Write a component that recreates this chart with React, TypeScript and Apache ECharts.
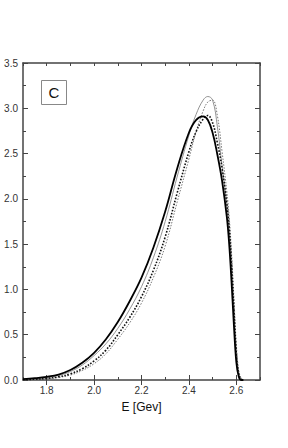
import React, { useEffect, useRef } from "react";
import * as echarts from "echarts";

const energies = [1.70, 1.75, 1.80, 1.85, 1.90, 1.95, 2.00, 2.05, 2.10, 2.15, 2.20, 2.25, 2.30, 2.35, 2.40, 2.43, 2.46, 2.48, 2.50, 2.52, 2.54, 2.56, 2.57, 2.58, 2.59, 2.60, 2.61, 2.62, 2.63];
const thickSolid = [0.01, 0.02, 0.035, 0.06, 0.11, 0.19, 0.30, 0.45, 0.64, 0.87, 1.13, 1.46, 1.86, 2.33, 2.73, 2.87, 2.91, 2.87, 2.73, 2.49, 2.20, 1.80, 1.50, 1.08, 0.60, 0.20, 0.04, 0, 0];
const thinSolid = [0.007, 0.015, 0.028, 0.05, 0.093, 0.165, 0.27, 0.40, 0.57, 0.78, 1.03, 1.35, 1.75, 2.24, 2.70, 2.93, 3.09, 3.13, 3.09, 2.80, 2.36, 1.94, 1.66, 1.26, 0.78, 0.32, 0.08, 0.01, 0];
const thickDotted = [0.004, 0.009, 0.018, 0.035, 0.068, 0.125, 0.21, 0.33, 0.50, 0.69, 0.92, 1.21, 1.58, 2.06, 2.52, 2.74, 2.88, 2.92, 2.84, 2.62, 2.34, 1.95, 1.68, 1.28, 0.78, 0.30, 0.07, 0.01, 0];
const thinDotted = [0.003, 0.007, 0.014, 0.028, 0.055, 0.105, 0.18, 0.29, 0.45, 0.63, 0.85, 1.13, 1.48, 1.96, 2.44, 2.74, 2.97, 3.07, 3.09, 2.92, 2.52, 2.08, 1.80, 1.40, 0.90, 0.40, 0.11, 0.02, 0];

const majorEnergyTicks = [1.8, 2.0, 2.2, 2.4, 2.6];
const xMin = 1.7, xMax = 2.7, xMinorInterval = 0.1;
const yMin = 0, yMax = 3.5, yInterval = 0.5;

const pairs = (ys: number[]) => energies.map((e, i) => [e, ys[i]]);

export default function App() {
  const ref = useRef<HTMLDivElement>(null);
  useEffect(() => {
    if (!ref.current) return;
    const chart = echarts.init(ref.current, null, { renderer: "svg" });
    const axisColor = "#444";
    const font = "Arial, 'Liberation Sans', sans-serif";
    const labelStyle = { color: "#333", fontSize: 10, fontFamily: font };
    const minorX = {
      type: "value" as const,
      min: xMin,
      max: xMax,
      interval: xMinorInterval,
      axisLine: { show: true, onZero: false, lineStyle: { color: axisColor, width: 1.5 } },
      axisTick: { show: true, inside: true, length: 3, lineStyle: { color: axisColor } },
      splitLine: { show: false },
    };
    const majorX = {
      type: "value" as const,
      min: xMin,
      max: xMax,
      interval: xMinorInterval,
      axisLine: { show: false },
      axisTick: { show: true, inside: true, length: 5, customValues: majorEnergyTicks, lineStyle: { color: axisColor } },
      axisLabel: { show: false },
      splitLine: { show: false },
    };
    const baseY = {
      type: "value" as const,
      min: yMin,
      max: yMax,
      interval: yInterval,
      axisLine: { show: true, onZero: false, lineStyle: { color: axisColor, width: 1.5 } },
      axisTick: { show: true, inside: true, length: 5, lineStyle: { color: axisColor } },
      minorTick: { show: true, splitNumber: 2, length: 3, lineStyle: { color: axisColor } },
      splitLine: { show: false },
      minorSplitLine: { show: false },
    };
    chart.setOption({
      animation: false,
      grid: { left: 23, top: 63, right: 28, bottom: 68, containLabel: false, outerBoundsMode: "none" },
      xAxis: [
        {
          ...minorX,
          position: "bottom",
          axisLabel: {
            ...labelStyle,
            margin: 5,
            formatter: (v: number) => (Math.round(v * 10) % 2 === 0 ? v.toFixed(1) : ""),
          },
          name: "E [Gev]",
          nameLocation: "middle",
          nameGap: 21,
          nameTextStyle: { color: "#111", fontSize: 12, fontFamily: font },
        },
        { ...minorX, position: "top", axisLabel: { show: false } },
        { ...majorX, position: "bottom" },
        { ...majorX, position: "top" },
      ],
      yAxis: [
        {
          ...baseY,
          position: "left",
          axisLabel: { ...labelStyle, margin: 5, overflow: "none", formatter: (v: number) => v.toFixed(1) },
        },
        { ...baseY, position: "right", axisLabel: { show: false } },
      ],
      graphic: [
        {
          type: "group",
          left: 41,
          top: 80,
          children: [
            { type: "rect", shape: { x: 0, y: 0, width: 25, height: 24 }, style: { fill: "#fff", stroke: "#888", lineWidth: 1 } },
            { type: "text", x: 12.5, y: 12, style: { text: "C", fill: "#111", fontSize: 15, fontFamily: font, align: "center", verticalAlign: "middle" } },
          ],
        },
      ],
      series: [
        { type: "line", data: pairs(thinSolid), showSymbol: false, smooth: 0.4, lineStyle: { color: "#888", width: 0.9 } },
        { type: "line", data: pairs(thinDotted), showSymbol: false, smooth: 0.4, lineStyle: { color: "#777", width: 1, type: [1.5, 1.5] } },
        { type: "line", data: pairs(thickDotted), showSymbol: false, smooth: 0.4, lineStyle: { color: "#111", width: 1.6, type: [1.6, 1.6] } },
        { type: "line", data: pairs(thickSolid), showSymbol: false, smooth: 0.4, lineStyle: { color: "#000", width: 1.8 } },
      ],
    });
    return () => chart.dispose();
  }, []);
  return <div ref={ref} style={{ position: "absolute", left: 0, top: 0, width: 288, height: 448 }} />;
}
